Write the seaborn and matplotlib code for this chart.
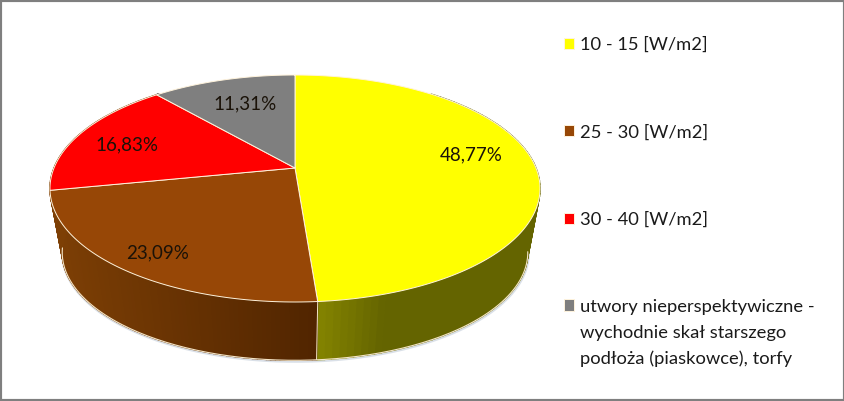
import numpy as np
import matplotlib
matplotlib.use("Agg")
import matplotlib.pyplot as plt
from matplotlib.colors import to_rgb
import seaborn as sns
from matplotlib.path import Path
from matplotlib.transforms import Transform

# --- dane ---
kategorie = ["10 - 15 [W/m2]", "25 - 30 [W/m2]", "30 - 40 [W/m2]",
             "utwory nieperspektywiczne -\nwychodnie skał starszego\npodłoża (piaskowce), torfy"]
udzialy = [48.77, 23.09, 16.83, 11.31]
kolory = ["#ffff00", "#974706", "#ff0000", "#7f7f7f"]

# gradient sciany bocznej: kolor przy lewym i prawym koncu wycinka
sciana_lewa = ["#868600", "#7d3f05", "#7d3f05", "#7f7f7f"]
sciana_prawa = ["#646400", "#512500", "#7d3f05", "#7f7f7f"]

# pozycje etykiet w pikselach obrazka
etykiety_xy = [(471, 155), (158, 253), (127, 145), (245, 104)]

sns.set_theme(style="white")
plt.rcParams['font.family'] = ['Lato', 'DejaVu Sans']

# --- rzut perspektywiczny kola jednostkowego na piksele ---
CX, CY = 295, 168
A, B, K = 241, 109.8, 0.1806
GLEBOKOSC, SKALA = 65, 0.95


def rzut(u, v, dol=False):
    w = 1 + K * v
    dx = A * u / w
    dy = -B * v / w
    if dol:
        return CX + SKALA * dx, CY + GLEBOKOSC + SKALA * dy
    return CX + dx, CY + dy


class Perspektywa(Transform):
    input_dims = 2
    output_dims = 2

    def transform_non_affine(self, values):
        x, y = rzut(values[:, 0], values[:, 1])
        return np.column_stack([x, y])

    def transform_path_non_affine(self, path):
        # krzywe trzeba zageszczac, bo rzut nie jest afiniczny
        t = np.linspace(0, 1, 40)
        punkty = [b(t) for b, _ in path.iter_bezier()]
        return Path(self.transform_non_affine(np.vstack(punkty)))


fig = plt.figure(figsize=(8.45, 4.01), dpi=100)
ax = fig.add_axes([0, 0, 1, 1])

wedges, _ = ax.pie(udzialy, colors=kolory, startangle=90, counterclock=False,
                   wedgeprops=dict(edgecolor="#fff3dc", linewidth=0.7, zorder=5))
for w in wedges:
    w.set_transform(Perspektywa() + ax.transData)

ax.set_aspect('auto')
ax.set_xlim(0, 845)
ax.set_ylim(401, 0)

# --- sciana boczna ---
granice = np.concatenate([[0], np.cumsum(udzialy)]) / sum(udzialy) * 360
for i in range(len(udzialy)):
    od_w, do_w = max(granice[i], 40), min(granice[i + 1], 320)
    if od_w >= do_w:
        continue
    kroki = np.radians(np.linspace(od_w, do_w, 90))
    for a, b in zip(kroki[:-1], kroki[1:]):
        x1, y1 = rzut(np.sin(a), np.cos(a))
        x2, y2 = rzut(np.sin(b), np.cos(b))
        x3, y3 = rzut(np.sin(b), np.cos(b), dol=True)
        x4, y4 = rzut(np.sin(a), np.cos(a), dol=True)
        # gradient idzie w poziomie, zolty ciemnieje w prawo, brazowy tez
        if i == 0:
            f = np.clip((x1 - 318) / 70, 0, 1)
        else:
            f = np.clip((x1 - 50) / 268, 0, 1)
        c = (1 - f) * np.array(to_rgb(sciana_lewa[i])) + f * np.array(to_rgb(sciana_prawa[i]))
        ax.fill([x1, x2, x3, x4], [y1, y2, y3, y4], color=c, lw=1, zorder=2)

# jasna krawedz dolna i delikatny cien
kat = np.radians(np.linspace(100, 262, 200))
xd, yd = rzut(np.sin(kat), np.cos(kat), dol=True)
ax.plot(xd + 0.5, yd + 1, color="#aebccd", lw=2.2, alpha=0.45, zorder=1)
ax.plot(xd, yd, color="#f5e6c8", lw=0.8, zorder=3)

# pionowa krawedz miedzy zoltym a brazowym
r = np.radians(granice[1])
x1, y1 = rzut(np.sin(r), np.cos(r))
x2, y2 = rzut(np.sin(r), np.cos(r), dol=True)
ax.plot([x1, x2], [y1, y2], color="#f5e6c8", lw=0.7, zorder=3)

# --- etykiety wartosci ---
for wartosc, (x, y) in zip(udzialy, etykiety_xy):
    ax.text(x, y, f"{wartosc:.2f}".replace('.', ',') + "%", ha='center', va='center',
            fontsize=13.5, color="#1a1208", zorder=6)

# --- legenda ---
# ostatni wpis ma trzy wiersze, znacznik zostaje przy pierwszym
pierwsze = [k.split("\n")[0] for k in kategorie]
leg = ax.legend(wedges, pierwsze, loc='upper left', bbox_to_anchor=(564 / 845, 1 - 37 / 401),
                frameon=False, fontsize=13.2, handlelength=0.55, handleheight=0.55,
                handletextpad=0.35, labelspacing=3.87, labelcolor="#1a1a1a",
                borderpad=0, borderaxespad=0)
ax.text(580, 325, kategorie[3].split("\n", 1)[1], ha='left', va='top', fontsize=13.2,
        color="#1a1a1a", linespacing=1.68, zorder=6)

# --- ramka ---
ax.set_frame_on(True)
for s in ax.spines.values():
    s.set_visible(True)
    s.set_color("#7f7f7f")
    s.set_linewidth(3)
ax.set_xticks([])
ax.set_yticks([])

plt.savefig("out.png", dpi=100)
